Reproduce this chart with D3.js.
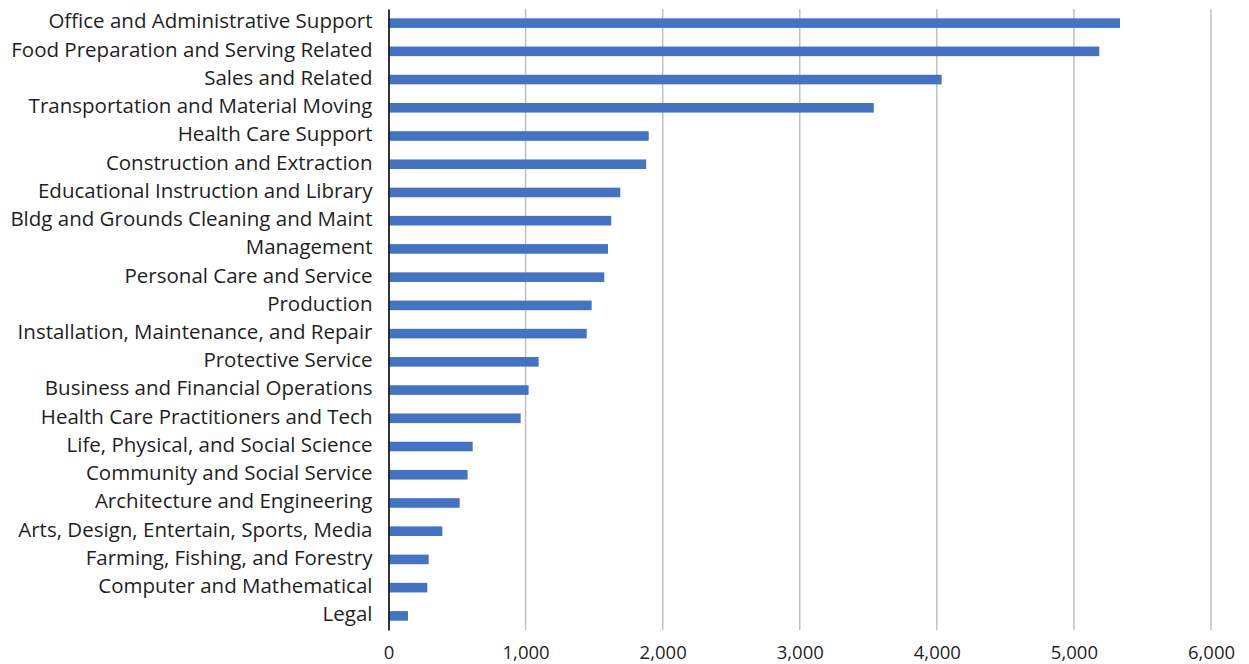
<!DOCTYPE html>
<html>
<head>
<meta charset="utf-8">
<script src="https://cdn.jsdelivr.net/npm/d3@7"></script>
<style>
  html, body { margin: 0; padding: 0; background: #fff; }
  svg { display: block; font-family: "Open Sans", sans-serif; }
</style>
</head>
<body>
<svg id="chart" width="1249" height="664"></svg>
<script>
// Employment by occupation group
const categories = [
  "Office and Administrative Support",
  "Food Preparation and Serving Related",
  "Sales and Related",
  "Transportation and Material Moving",
  "Health Care Support",
  "Construction and Extraction",
  "Educational Instruction and Library",
  "Bldg and Grounds Cleaning and Maint",
  "Management",
  "Personal Care and Service",
  "Production",
  "Installation, Maintenance, and Repair",
  "Protective Service",
  "Business and Financial Operations",
  "Health Care Practitioners and Tech",
  "Life, Physical, and Social Science",
  "Community and Social Service",
  "Architecture and Engineering",
  "Arts, Design, Entertain, Sports, Media",
  "Farming, Fishing, and Forestry",
  "Computer and Mathematical",
  "Legal"
];
const values = [
  5336, 5185, 4035, 3540, 1898, 1880, 1691, 1625, 1601, 1574, 1482,
  1446, 1095, 1022, 964, 614, 577, 519, 393, 293, 283, 142
];
const xTicks = [0, 1000, 2000, 3000, 4000, 5000, 6000];

const svg = d3.select("#chart");
const margin = { top: 9, right: 38, bottom: 34, left: 388.5 };
const width = 1249, height = 664;

const x = d3.scaleLinear()
  .domain([0, 6000])
  .range([margin.left, width - margin.right]);

const y = d3.scaleBand()
  .domain(categories)
  .range([margin.top, height - margin.bottom])
  .paddingInner(0.66)
  .paddingOuter(0.33);

// vertical gridlines
svg.append("g")
  .selectAll("line")
  .data(xTicks.slice(1))
  .join("line")
  .attr("x1", d => x(d)).attr("x2", d => x(d))
  .attr("y1", margin.top).attr("y2", height - margin.bottom)
  .attr("stroke", "#bfbfbf")
  .attr("stroke-width", 1.5);

// bars
svg.append("g")
  .selectAll("rect")
  .data(values)
  .join("rect")
  .attr("x", x(0))
  .attr("y", (d, i) => y(categories[i]))
  .attr("width", d => x(d) - x(0))
  .attr("height", y.bandwidth())
  .attr("fill", "#4472c4");

// x axis labels
const xAxis = d3.axisBottom(x)
  .tickValues(xTicks)
  .tickFormat(d3.format(","))
  .tickSize(0)
  .tickPadding(16);
const gx = svg.append("g")
  .attr("transform", `translate(0,${height - margin.bottom})`)
  .call(xAxis);
gx.select(".domain").remove();
gx.selectAll("text")
  .attr("font-size", 18.5)
  .attr("font-family", "Open Sans, sans-serif")
  .attr("fill", "#1f1f1f");

// category axis
const yAxis = d3.axisLeft(y).tickSize(0).tickPadding(16);
const gy = svg.append("g")
  .attr("transform", `translate(${x(0)},0)`)
  .call(yAxis);
gy.select(".domain")
  .attr("stroke", "#1f1f1f")
  .attr("stroke-width", 1.8);
gy.selectAll("text")
  .attr("font-size", 20.5)
  .attr("dy", "0.26em")
  .attr("font-family", "Open Sans, sans-serif")
  .attr("fill", "#1f1f1f");
</script>
</body>
</html>
